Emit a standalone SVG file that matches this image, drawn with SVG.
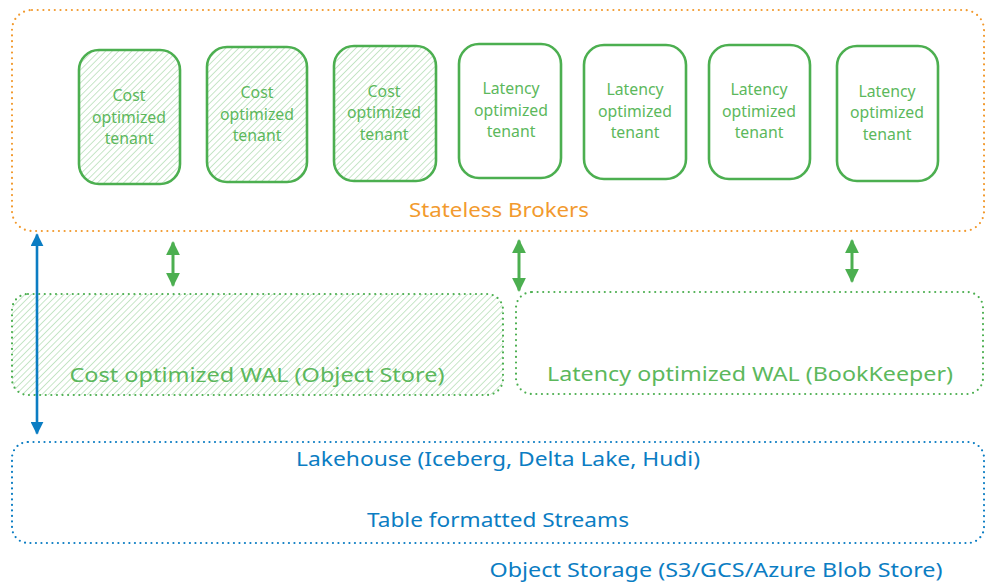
<svg xmlns="http://www.w3.org/2000/svg" width="985" height="585" viewBox="0 0 985 585">
<defs>
<pattern id="hatch" width="4.6" height="10" patternUnits="userSpaceOnUse" patternTransform="rotate(45)">
<line x1="0" y1="0" x2="0" y2="10" stroke="#a9d8ab" stroke-width="1.3"/>
</pattern>
<marker id="ga" viewBox="0 0 10 10" refX="9" refY="5" markerWidth="4.6" markerHeight="4.6" orient="auto-start-reverse" markerUnits="strokeWidth">
<path d="M0,0 L10,5 L0,10 z" fill="#4caf50"/>
</marker>
<marker id="ba" viewBox="0 0 10 10" refX="9" refY="5" markerWidth="5" markerHeight="5" orient="auto-start-reverse" markerUnits="strokeWidth">
<path d="M0,0 L10,5 L0,10 z" fill="#0b7dc3"/>
</marker>
</defs>
<style>
.tenant rect{stroke:#4caf50;stroke-width:2.6}
.cost rect{fill:url(#hatch)}
.lat rect{fill:#ffffff}
.tt{font-family:"Noto Sans","Open Sans",sans-serif;font-size:15.8px;fill:#5cb85c;text-anchor:middle}
.big{font-family:"Noto Sans","Open Sans",sans-serif;font-size:20px;text-anchor:middle}
.gdot{fill:none;stroke:#4caf50;stroke-width:2.2;stroke-dasharray:0 5.6;stroke-linecap:round}
.odot{fill:none;stroke:#f29a2e;stroke-width:2.2;stroke-dasharray:0 5.7;stroke-linecap:round}
.bdot{fill:none;stroke:#0b7dc3;stroke-width:2.2;stroke-dasharray:0 5.5;stroke-linecap:round}
.garrow{stroke:#4caf50;stroke-width:3;fill:none}
</style>

<g id="brokers">
<rect class="odot" x="12" y="10" width="972" height="221" rx="20"/>
<text class="big" x="499" y="217" fill="#f29a2e" textLength="180" lengthAdjust="spacingAndGlyphs">Stateless Brokers</text>
</g>

<g id="tenant1" class="tenant cost">
<rect x="79" y="50" width="101" height="134" rx="20"/>
<text class="tt" x="129" y="100.5">Cost</text>
<text class="tt" x="129" y="122.5">optimized</text>
<text class="tt" x="129" y="143.5">tenant</text>
</g>
<g id="tenant2" class="tenant cost">
<rect x="207" y="47" width="100" height="135" rx="20"/>
<text class="tt" x="257" y="97.5">Cost</text>
<text class="tt" x="257" y="119.5">optimized</text>
<text class="tt" x="257" y="140.5">tenant</text>
</g>
<g id="tenant3" class="tenant cost">
<rect x="334" y="46" width="102" height="135" rx="20"/>
<text class="tt" x="384" y="96.5">Cost</text>
<text class="tt" x="384" y="117.5">optimized</text>
<text class="tt" x="384" y="139.5">tenant</text>
</g>
<g id="tenant4" class="tenant lat">
<rect x="459" y="44" width="102" height="134" rx="20"/>
<text class="tt" x="511" y="93.5">Latency</text>
<text class="tt" x="511" y="115.5">optimized</text>
<text class="tt" x="511" y="136.5">tenant</text>
</g>
<g id="tenant5" class="tenant lat">
<rect x="584" y="45" width="102" height="134" rx="20"/>
<text class="tt" x="635" y="94.5">Latency</text>
<text class="tt" x="635" y="116.5">optimized</text>
<text class="tt" x="635" y="137.5">tenant</text>
</g>
<g id="tenant6" class="tenant lat">
<rect x="709" y="45" width="101" height="134" rx="20"/>
<text class="tt" x="759" y="94.5">Latency</text>
<text class="tt" x="759" y="116.5">optimized</text>
<text class="tt" x="759" y="137.5">tenant</text>
</g>
<g id="tenant7" class="tenant lat">
<rect x="837" y="46" width="101" height="135" rx="20"/>
<text class="tt" x="887" y="96.5">Latency</text>
<text class="tt" x="887" y="117.5">optimized</text>
<text class="tt" x="887" y="139.5">tenant</text>
</g>

<g id="cost-wal">
<rect x="12" y="294" width="491" height="101" rx="16" fill="url(#hatch)"/>
<rect class="gdot" x="12" y="294" width="491" height="101" rx="16"/>
<text class="big" x="257" y="382" fill="#5cb85c" font-size="22" textLength="375" lengthAdjust="spacingAndGlyphs">Cost optimized WAL (Object Store)</text>
</g>

<g id="latency-wal">
<rect class="gdot" x="516" y="292" width="467" height="102" rx="16"/>
<text class="big" x="750" y="381" fill="#5cb85c" font-size="22" textLength="406" lengthAdjust="spacingAndGlyphs">Latency optimized WAL (BookKeeper)</text>
</g>

<g id="lakehouse">
<rect class="bdot" x="12" y="442" width="972" height="101" rx="16"/>
<text class="big" x="498" y="466" fill="#0b7dc3" textLength="404" lengthAdjust="spacingAndGlyphs">Lakehouse (Iceberg, Delta Lake, Hudi)</text>
<text class="big" x="498" y="527" fill="#0b7dc3" textLength="262" lengthAdjust="spacingAndGlyphs">Table formatted Streams</text>
</g>

<g id="object-storage">
<text class="big" x="716" y="577" fill="#0b7dc3" textLength="453" lengthAdjust="spacingAndGlyphs">Object Storage (S3/GCS/Azure Blob Store)</text>
</g>

<g id="connectors">
<line class="garrow" x1="173" y1="242.5" x2="173" y2="285.5" marker-start="url(#ga)" marker-end="url(#ga)"/>
<line class="garrow" x1="519" y1="240.5" x2="519" y2="290.5" marker-start="url(#ga)" marker-end="url(#ga)"/>
<line class="garrow" x1="852" y1="240.5" x2="852" y2="281.5" marker-start="url(#ga)" marker-end="url(#ga)"/>
<line x1="37" y1="234.5" x2="37" y2="433.5" stroke="#0b7dc3" stroke-width="2.6" marker-start="url(#ba)" marker-end="url(#ba)"/>
</g>
</svg>
